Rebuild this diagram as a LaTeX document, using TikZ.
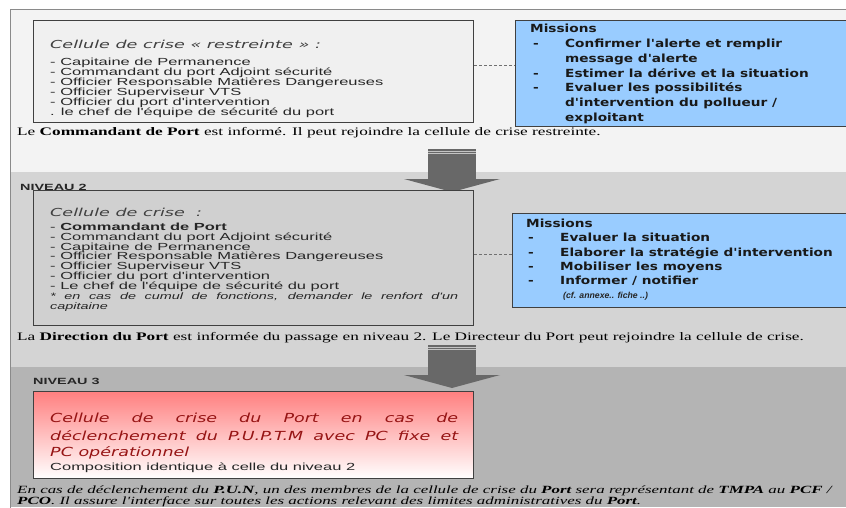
\documentclass[tikz,border=0pt]{standalone}
\usepackage{fontspec}
\setmainfont{Liberation Serif}[FakeStretch=1.5]
\newfontfamily\endserif{Liberation Serif}[FakeStretch=1.54]
\newfontfamily\listfont{Liberation Sans}[FakeStretch=1.6]
\newfontfamily\titlefont{DejaVu Sans}[FakeStretch=1.6]
\newfontfamily\missionfont{DejaVu Sans}[FakeStretch=1.22]
\newfontfamily\redfont{DejaVu Sans}[FakeStretch=1.4]
\newfontfamily\notefont{Liberation Sans}[FakeStretch=1.55]
\newfontfamily\cffont{Liberation Sans}
\usetikzlibrary{positioning}
\definecolor{bandone}{HTML}{F3F3F3}
\definecolor{bandtwo}{HTML}{D4D4D4}
\definecolor{bandthree}{HTML}{B4B4B4}
\definecolor{cellone}{HTML}{F0F0F0}
\definecolor{celltwo}{HTML}{D0D0D0}
\definecolor{boxline}{HTML}{404040}
\definecolor{framegray}{HTML}{8A8A8A}
\definecolor{missionblue}{HTML}{99CCFF}
\definecolor{arrgray}{HTML}{686868}
\definecolor{stripegray}{HTML}{C4C4C4}
\definecolor{redtop}{HTML}{FF8080}
\definecolor{redtext}{HTML}{961414}
\definecolor{linkgray}{HTML}{707070}
\tikzstyle{cellbox}=[draw=boxline,line width=1.3pt,anchor=north west,inner sep=0pt]
\tikzstyle{missionbox}=[draw=boxline,fill=missionblue,line width=1pt,anchor=north west,inner sep=0pt]
\tikzstyle{txt}=[anchor=base west,inner sep=0pt]
\tikzstyle{celltitle}=[txt,text=black!75,font={\titlefont\itshape\fontsize{11}{11}\selectfont}]
\tikzstyle{celltext}=[txt,text=black!85,font={\listfont\fontsize{10.3}{10}\selectfont}]
\tikzstyle{missiontext}=[txt,text=black!90,font={\missionfont\bfseries\fontsize{11.2}{11}\selectfont}]
\tikzstyle{serifnote}=[txt,font={\fontsize{11.5}{11}\selectfont}]
\tikzstyle{endnote}=[txt,font={\endserif\itshape\fontsize{11}{11}\selectfont}]
\tikzstyle{levellabel}=[txt,text=black!85,font={\listfont\bfseries\fontsize{9}{9}\selectfont}]
\tikzstyle{redline}=[txt,text=redtext,font={\redfont\itshape\fontsize{12.5}{12}\selectfont}]
\tikzstyle{link}=[densely dashed,draw=linkgray,line width=0.6pt]

\begin{document}
\begin{tikzpicture}[x=1pt,y=-1pt]
  \clip (0,0) rectangle (846,507);
  % bands of the three levels
  \fill[bandone] (10,9) rectangle (846,172);
  \fill[bandtwo] (10,172) rectangle (846,367);
  \fill[bandthree] (10,367) rectangle (846,507);
  \draw[framegray,line width=1pt] (10,520) -- (10,9) -- (860,9);

  % level 1
  \node[cellbox,fill=cellone,minimum width=440pt,minimum height=102pt] (R1) at (33,20) {};
  \node[celltitle] (R1title) at (50,48) {Cellule de crise « restreinte » :};
  \foreach \t [count=\i] in {- Capitaine de Permanence, - Commandant du port Adjoint sécurité,
      - Officier Responsable Matières Dangereuses, - Officier Superviseur VTS,
      - Officier du port d'intervention, . le chef de l'équipe de sécurité du port}
    \node[celltext] (R1l\i) at (50,55.6+9.9*\i) {\t};
  \node[missionbox,minimum width=340pt,minimum height=106pt] (M1) at (515,20) {};
  \node[missiontext] (M1head) at (530,32.5) {Missions};
  \foreach \y [count=\i] in {47.5,77,91}
    \node[missiontext] (M1d\i) at (533,\y) {-};
  \foreach \y/\t [count=\i] in {47.5/{Confirmer l'alerte et remplir}, 62.5/{message d'alerte},
      77/{Estimer la dérive et la situation}, 91/{Evaluer les possibilités},
      106/{d'intervention du pollueur /}, 121/{exploitant}}
    \node[missiontext] (M1l\i) at (565,\y) {\t};
  \draw[link] (R1.east |- 0,65) -- (M1.west |- 0,65);
  \node[serifnote] (T1) at (17,135.5) {Le \textbf{Commandant de Port} est informé. Il peut rejoindre la cellule de crise restreinte.};

  % arrows between levels
  \foreach \ya [count=\i] in {149,345} {
    \fill[arrgray] (428,\ya) rectangle (476,\ya+30);
    \fill[arrgray] (404,\ya+30) -- (500,\ya+30) -- (452,\ya+43) -- cycle;
    \draw[stripegray,line width=0.9pt] (428,\ya+2.4) -- (476,\ya+2.4);
    \draw[stripegray,line width=0.9pt] (428,\ya+4.9) -- (476,\ya+4.9);
  }

  % level 2
  \node[cellbox,fill=celltwo,minimum width=440pt,minimum height=135pt] (R2) at (33,190) {};
  \node[levellabel] (L2) at (20,190.5) {NIVEAU 2};
  \node[celltitle] (R2title) at (50,216) {Cellule de crise~ :};
  \foreach \t [count=\i] in {- \textbf{Commandant de Port}, - Commandant du port Adjoint sécurité,
      - Capitaine de Permanence, - Officier Responsable Matières Dangereuses,
      - Officier Superviseur VTS, - Officier du port d'intervention,
      - Le chef de l'équipe de sécurité du port}
    \node[celltext] (R2l\i) at (50,220.7+9.8*\i) {\t};
  \node[celltext,font={\notefont\itshape\fontsize{9.3}{9}\selectfont}] (R2n1) at (50,299)
    {\makebox[408pt][s]{* en cas de cumul de fonctions, demander le renfort d'un}};
  \node[celltext,font={\notefont\itshape\fontsize{9.3}{9}\selectfont}] (R2n2) at (50,309) {capitaine};
  \node[missionbox,minimum width=340pt,minimum height=94pt] (M2) at (512,213) {};
  \node[missiontext] (M2head) at (526,227) {Missions};
  \foreach \y/\t [count=\i] in {241/{Evaluer la situation}, 256/{Elaborer la stratégie d'intervention},
      270/{Mobiliser les moyens}, 284/{Informer / notifier}}
    {\node[missiontext] (M2d\i) at (528,\y) {-};
     \node[missiontext] (M2l\i) at (560,\y) {\t};}
  \node[txt,text=black!85,font={\cffont\bfseries\itshape\fontsize{8.7}{8.7}\selectfont}] (M2cf) at (563,298) {(cf. annexe.. fiche ..)};
  \draw[link] (R2.east |- 0,254) -- (M2.west |- 0,254);
  \node[serifnote] (T2) at (17,340.5) {La \textbf{Direction du Port} est informée du passage en niveau 2. Le Directeur du Port peut rejoindre la cellule de crise.};

  % level 3
  \node[levellabel] (L3) at (33,384) {NIVEAU 3};
  \node[cellbox,top color=redtop,bottom color=white,minimum width=440pt,minimum height=87pt] (R3) at (33,391) {};
  \node[redline] (R3l1) at (50,422.5) {\makebox[408pt][s]{Cellule de crise du Port en cas de}};
  \node[redline] (R3l2) at (50,440) {\makebox[408pt][s]{déclenchement du P.U.P.T.M avec PC fixe et}};
  \node[redline] (R3l3) at (50,456) {PC opérationnel};
  \node[celltext] (R3l4) at (50,470.5) {Composition identique à celle du niveau 2};
  \node[endnote] (T3) at (17,493.5)
    {En cas de déclenchement du \textbf{P.U.N}, un des membres de la cellule de crise du \textbf{Port} sera représentant de \textbf{TMPA} au \textbf{PCF} /};
  \node[endnote] (T4) at (17,504.5)
    {\textbf{PCO}. Il assure l'interface sur toutes les actions relevant des limites administratives du \textbf{Port}.};
\end{tikzpicture}
\end{document}
